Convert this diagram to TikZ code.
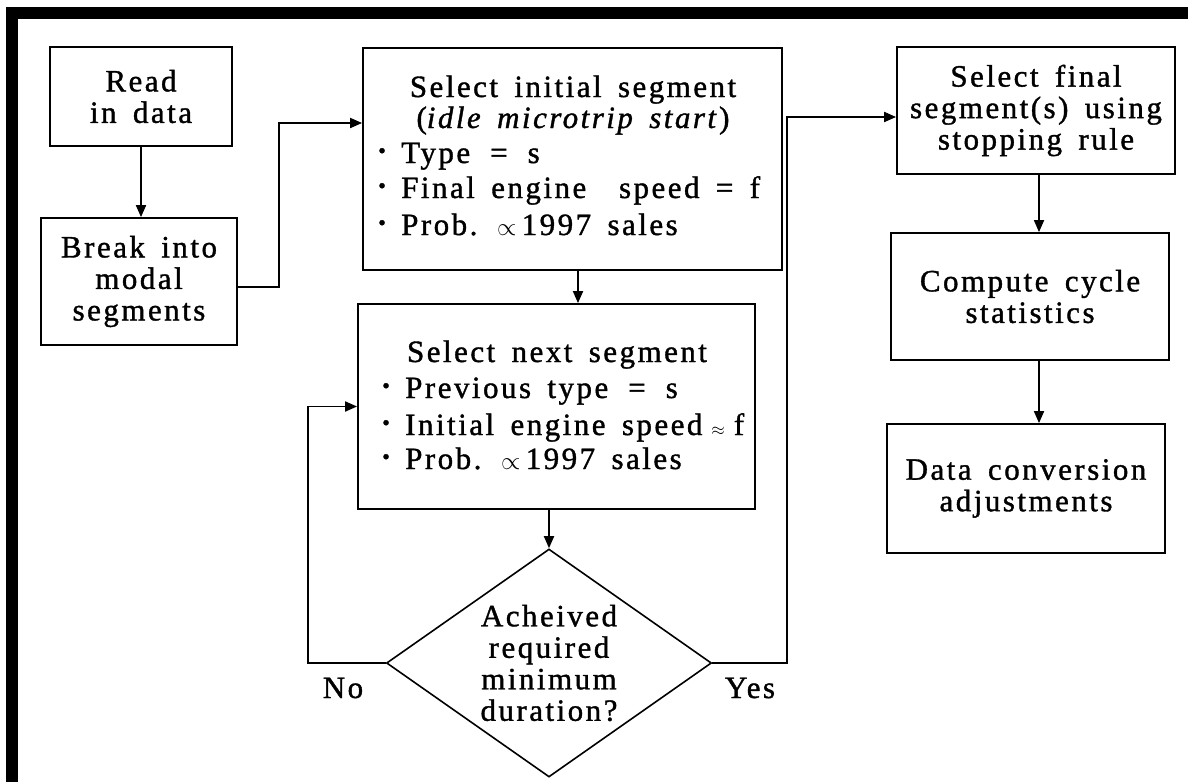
\documentclass[tikz,border=0pt]{standalone}
\usepackage{fontspec}
\setmainfont{Liberation Serif}[LetterSpace=8,WordSpace=1.6,FakeBold=1.2]
\usetikzlibrary{arrows.meta,shapes.geometric}
\newcommand\flowfont{\fontsize{31}{31.5}\selectfont}
\newcommand\bulletline[1]{\makebox[23pt][l]{\raisebox{5pt}{\fontsize{22}{22}\selectfont\textbullet}}#1}
\newcommand\gapeq{\hspace{20pt}}
\begin{document}
\begin{tikzpicture}[x=1pt,y=-1pt,
  box/.style={draw,line width=1.8pt,inner sep=0pt,align=center,font=\flowfont},
  dec/.style={draw,line width=1.6pt,shape=diamond,inner sep=0pt,shape aspect=1.425,align=center,font=\flowfont},
  txt/.style={inner sep=0pt,font=\flowfont},
  arr/.style={line width=1.8pt,-{Triangle[length=12pt,width=10pt]}}
]
\useasboundingbox (0,0) rectangle (1188,782);
\fill[white] (0,0) rectangle (1188,782);
% frame bars
\fill[black] (8,7) rectangle (1188,19);
\fill[black] (6,7) rectangle (18,782);

% boxes
\node[box,minimum width=182pt,minimum height=99pt] (read) at (141,96.5) {Read\\in data};
\node[box,minimum width=196pt,minimum height=127pt] (brk) at (139,281.5) {Break into\\modal\\segments};
\node[box,minimum width=419pt,minimum height=222pt] (init) at (572.5,159) {};
\node[box,minimum width=397pt,minimum height=205pt] (next) at (556.5,406.5) {};
\node[dec,minimum width=325pt,minimum height=228pt] (dia) at (549,663) {Acheived\\required\\minimum\\duration?};
\node[box,minimum width=278pt,minimum height=127pt] (final) at (1036,110.5) {Select final\\segment(s) using\\stopping rule};
\node[box,minimum width=278pt,minimum height=127pt] (comp) at (1030,296.5) {Compute cycle\\statistics};
\node[box,minimum width=278pt,minimum height=129pt] (data) at (1026,488.5) {Data conversion\\adjustments};

% texts of the initial-segment box
\node[txt,anchor=base] (i1) at (573,97) {Select initial segment};
\node[txt,anchor=base] (i2) at (573,128) {(\textit{idle microtrip start})};
\node[txt,anchor=base west] (i3) at (378,163) {\bulletline{Type\gapeq=\gapeq s}};
\node[txt,anchor=base west] (i4) at (378,198) {\bulletline{Final engine\ \ speed = f}};
\node[txt,anchor=base west] (i5) at (378,235) {\bulletline{Prob. {\fontsize{24}{24}\selectfont$\propto$}\,1997 sales}};

% texts of the next-segment box
\node[txt,anchor=base] (n1) at (557,362) {Select next segment};
\node[txt,anchor=base west] (n2) at (382,398) {\bulletline{Previous type\gapeq=\gapeq s}};
\node[txt,anchor=base west] (n3) at (382,435) {\bulletline{Initial engine speed\hspace{9pt}{\fontsize{18}{18}\selectfont$\approx$}\hspace{9pt}f}};
\node[txt,anchor=base west] (n4) at (382,469) {\bulletline{Prob. {\fontsize{24}{24}\selectfont$\propto$}\,1997 sales}};

% labels
\node[txt,anchor=base] (no) at (343,698) {No};
\node[txt,anchor=base] (yes) at (750,698) {Yes};

% helper coordinates
\coordinate (j1) at (279,123);
\coordinate (c1) at (578,0);
\coordinate (nL) at (308,0);
\coordinate (yR) at (787,0);
\coordinate (yT) at (0,117);
\coordinate (c2) at (1039,0);

% connectors
\draw[arr] (read.south) -- (read.south |- brk.north);
\draw[arr] ([yshift=-5.5pt]brk.east) -| (j1) -- (j1 -| init.west);
\draw[arr] (init.south -| c1) -- (next.north -| c1);
\draw[arr] (next.south -| dia.north) -- (dia.north);
\draw[arr] (dia.west) -| (nL |- next.west) -- (next.west);
\draw[arr] (dia.east) -| (yR |- yT) -- (yT -| final.west);
\draw[arr] (final.south -| c2) -- (comp.north -| c2);
\draw[arr] (comp.south -| c2) -- (data.north -| c2);
\end{tikzpicture}
\end{document}
